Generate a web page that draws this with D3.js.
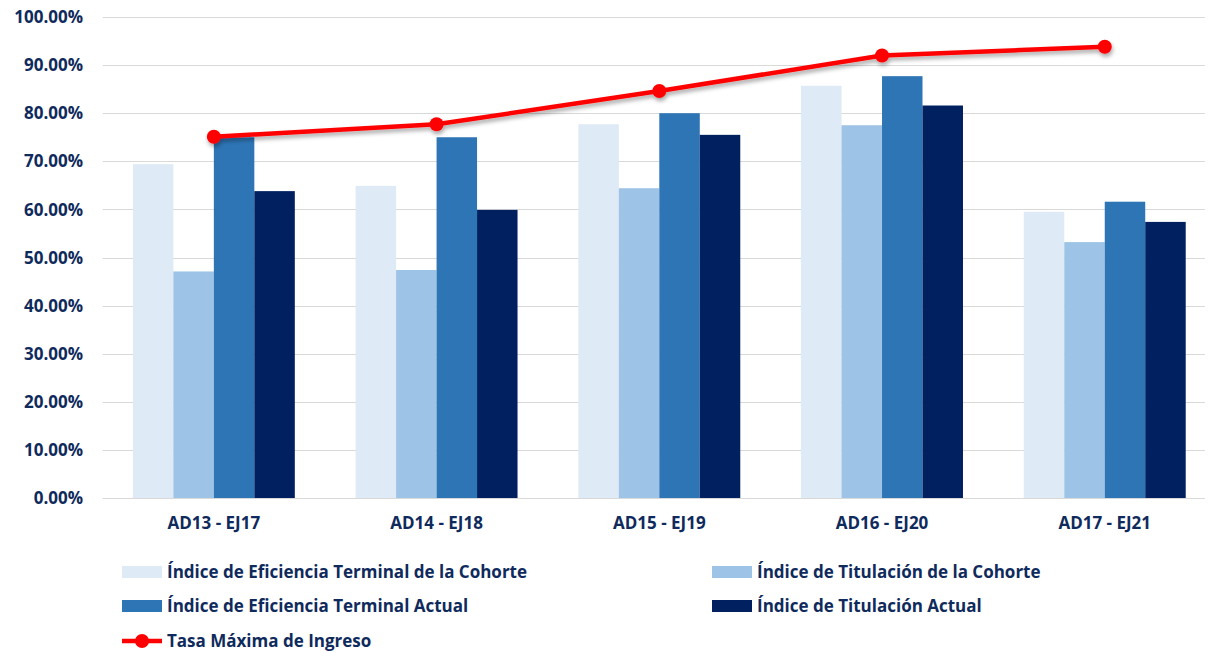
<!DOCTYPE html>
<meta charset="utf-8">
<style>
  body { margin: 0; background: #fff; }
  text { font-family: "Open Sans", Lato, sans-serif; font-weight: bold; fill: #0f2a5c; }
  .grid line { stroke: #d9d9d9; stroke-width: 1; }
</style>
<svg width="1210" height="652">
  <defs>
    <filter id="shadow" x="-10%" y="-50%" width="120%" height="200%">
      <feDropShadow dx="1" dy="3" stdDeviation="2" flood-color="#000" flood-opacity="0.35"/>
    </filter>
  </defs>
</svg>
<script src="https://d3js.org/d3.v7.min.js"></script>
<script>
  var categories = ["AD13 - EJ17", "AD14 - EJ18", "AD15 - EJ19", "AD16 - EJ20", "AD17 - EJ21"];
  var seriesNames = ["Índice de Eficiencia Terminal de la Cohorte", "Índice de Titulación de la Cohorte",
                     "Índice de Eficiencia Terminal Actual", "Índice de Titulación Actual"];
  var eficienciaCohorte = [69.4, 64.9, 77.7, 85.7, 59.5];
  var titulacionCohorte = [47.1, 47.4, 64.4, 77.5, 53.2];
  var eficienciaActual = [75.0, 75.0, 80.0, 87.7, 61.6];
  var titulacionActual = [63.8, 59.9, 75.5, 81.6, 57.4];
  var tasaMaxima = [75.1, 77.7, 84.6, 92.0, 93.8];
  var lineName = "Tasa Máxima de Ingreso";
  var yTicks = [0, 10, 20, 30, 40, 50, 60, 70, 80, 90, 100];
  var colors = ["#deeaf6", "#9dc3e6", "#2e75b6", "#002060"];

  var series = [eficienciaCohorte, titulacionCohorte, eficienciaActual, titulacionActual];

  var svg = d3.select("svg");
  var plotLeft = 102.6, plotRight = 1216, plotTop = 17, plotBottom = 498;
  var fs = "17px";

  var x = d3.scaleBand().domain(categories).range([plotLeft, plotRight]).paddingInner(0.273).paddingOuter(0.136);
  var xs = d3.scaleBand().domain(d3.range(4)).range([0, x.bandwidth()]);
  var y = d3.scaleLinear().domain([0, 100]).range([plotBottom, plotTop]);

  // gridlines
  svg.append("g").attr("class", "grid")
    .selectAll("line").data(yTicks).enter().append("line")
    .attr("x1", plotLeft).attr("x2", 1205)
    .attr("y1", function(d) { return Math.round(y(d)) + 0.5; })
    .attr("y2", function(d) { return Math.round(y(d)) + 0.5; });

  // y labels
  svg.append("g").selectAll("text").data(yTicks).enter().append("text")
    .attr("x", 83).attr("y", function(d) { return y(d); })
    .attr("dy", "0.36em").attr("text-anchor", "end")
    .style("font-size", fs)
    .text(function(d) { return d.toFixed(2) + "%"; });

  // bars
  var groups = svg.append("g").selectAll("g").data(categories).enter().append("g")
    .attr("transform", function(d) { return "translate(" + x(d) + ",0)"; });

  groups.selectAll("rect").data(function(d, i) { return series.map(function(s, k) { return {k: k, v: s[i]}; }); })
    .enter().append("rect")
    .attr("x", function(d) { return xs(d.k); })
    .attr("width", xs.bandwidth())
    .attr("y", function(d) { return y(d.v); })
    .attr("height", function(d) { return plotBottom - y(d.v); })
    .attr("fill", function(d) { return colors[d.k]; });

  // x labels
  svg.append("g").selectAll("text").data(categories).enter().append("text")
    .attr("x", function(d) { return x(d) + x.bandwidth() / 2; })
    .attr("y", 523).attr("dy", "0.36em").attr("text-anchor", "middle")
    .style("font-size", fs)
    .text(function(d) { return d; });

  // line
  var line = d3.line()
    .x(function(d, i) { return x(categories[i]) + x.bandwidth() / 2; })
    .y(function(d) { return y(d); });

  var lg = svg.append("g").attr("filter", "url(#shadow)");
  lg.append("path").datum(tasaMaxima)
    .attr("d", line).attr("fill", "none")
    .attr("stroke", "#ff0000").attr("stroke-width", 4.5).attr("stroke-linejoin", "round");
  lg.selectAll("circle").data(tasaMaxima).enter().append("circle")
    .attr("cx", function(d, i) { return x(categories[i]) + x.bandwidth() / 2; })
    .attr("cy", function(d) { return y(d); })
    .attr("r", 7).attr("fill", "#ff0000");

  // legend
  var legendPos = [[122, 572], [712, 572], [122, 606], [712, 606]];
  var leg = svg.append("g");
  seriesNames.forEach(function(name, k) {
    var p = legendPos[k];
    leg.append("rect").attr("x", p[0]).attr("y", p[1] - 6).attr("width", 40).attr("height", 12)
      .attr("fill", colors[k]);
    leg.append("text").attr("x", p[0] + 45).attr("y", p[1]).attr("dy", "0.36em")
      .style("font-size", fs).text(name);
  });
  leg.append("line").attr("x1", 122).attr("x2", 162).attr("y1", 641).attr("y2", 641)
    .attr("stroke", "#ff0000").attr("stroke-width", 4.5);
  leg.append("circle").attr("cx", 142).attr("cy", 641).attr("r", 7).attr("fill", "#ff0000");
  leg.append("text").attr("x", 167).attr("y", 641).attr("dy", "0.36em")
    .style("font-size", fs).text(lineName);
</script>
